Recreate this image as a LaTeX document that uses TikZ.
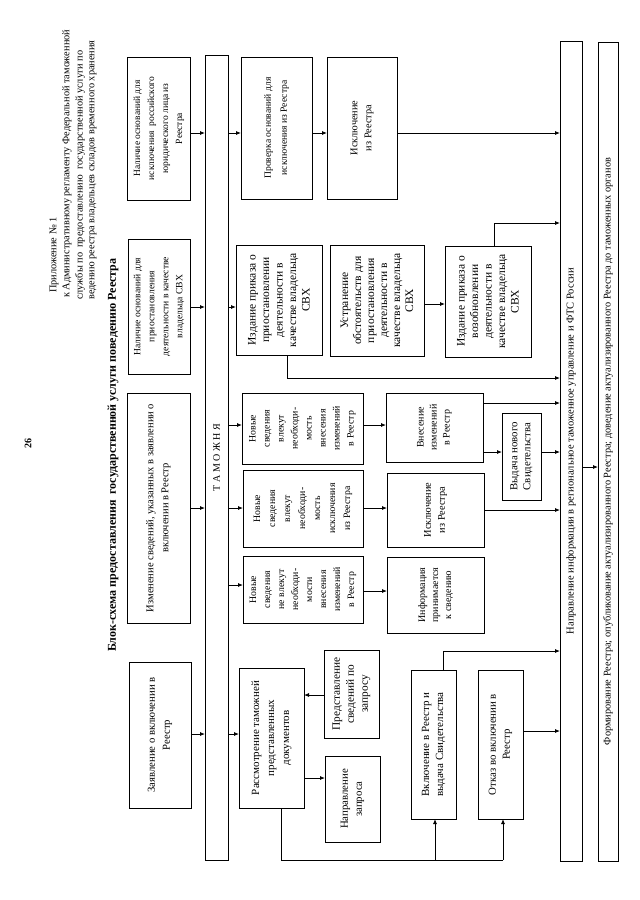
\documentclass[tikz,border=0pt]{standalone}
\usepackage{fontspec}
\setmainfont{Liberation Serif}
\usepackage{graphicx}
\usetikzlibrary{arrows.meta}
% size, width, baselineskip, text
\newcommand\rt[4]{\rotatebox{90}{\parbox{#2}{\centering\fontsize{#1}{#3}\selectfont #4}}}
\tikzset{
  bx/.style={draw, line width=0.9pt, inner sep=0pt, outer sep=0pt},
  arr/.style={line width=0.8pt, -{Latex[length=5pt,width=4pt]}},
  ln/.style={line width=0.8pt},
  rtxt/.style={rotate=90, inner sep=0pt, anchor=west}
}
\begin{document}
\begin{tikzpicture}[x=1pt,y=-1pt]
\useasboundingbox[fill=white] (0,0) rectangle (640,900);
% header
\node[rotate=90, inner sep=0pt] (pg) at (28,443) {\fontsize{10}{12}\selectfont\bfseries 26};
\node[rtxt] (h1) at (54,293) {\fontsize{10.3}{12}\selectfont Приложение № 1};
\node[rtxt] (h2) at (67,298) {\fontsize{10.3}{12}\selectfont к Административному регламенту Федеральной таможенной};
\node[rtxt] (h3) at (80,300) {\fontsize{10.3}{12}\selectfont службы по \ предоставлению \ государственной услуги по};
\node[rtxt] (h4) at (93,300) {\fontsize{10.3}{12}\selectfont ведению реестра владельцев складов временного хранения};
\node[rtxt] (title) at (113,652) {\fontsize{12}{14}\selectfont\bfseries Блок-схема предоставления \ государственной услуги поведению Реестра};
% column 1
\node[bx, minimum width=63pt, minimum height=143pt] (B1) at (159,128.5) {\rt{9.5}{135pt}{14}{Наличие оснований для\\ исключения \ российского\\ юридического лица из\\ Реестра}};
\node[bx, minimum width=62pt, minimum height=135pt] (B2) at (159,306.5) {\rt{9.6}{130pt}{14}{Наличие оснований для\\ приостановления\\ деятельности в качестве\\ владельца СВХ}};
\node[bx, minimum width=63pt, minimum height=230pt] (B3) at (158.5,508) {\rt{10.5}{225pt}{15}{Изменение сведений, указанных в заявлении о\\ включении в Реестр}};
\node[bx, minimum width=62pt, minimum height=146pt] (B4) at (160,735) {\rt{10.7}{140pt}{15}{Заявление о включении в\\ Реестр}};
% bar T
\node[bx, minimum width=23pt, minimum height=805pt] (T) at (216.5,457.5) {\rotatebox{90}{\fontsize{10}{12}\selectfont Т А М О Ж Н Я}};
% column 2
\node[bx, minimum width=71pt, minimum height=142pt] (C1) at (276.5,128) {\rt{9.6}{135pt}{16}{Проверка оснований для\\ исключения из Реестра}};
\node[bx, minimum width=70pt, minimum height=142pt] (C2) at (362,128) {\rt{10.3}{135pt}{14}{Исключение\\ из Реестра}};
\node[bx, minimum width=86pt, minimum height=110pt] (D1) at (279,300) {\rt{11.5}{106pt}{13.5}{Издание приказа о\\ приостановлении\\ деятельности в\\ качестве владельца\\ СВХ}};
\node[bx, minimum width=94pt, minimum height=111pt] (D2) at (377,300.5) {\rt{11.5}{106pt}{13}{Устранение\\ обстоятельств для\\ приостановления\\ деятельности в\\ качестве владельца\\ СВХ}};
\node[bx, minimum width=86pt, minimum height=111pt] (D3) at (488,301.5) {\rt{11.5}{106pt}{13.5}{Издание приказа о\\ возобновлении\\ деятельности в\\ качестве владельца\\ СВХ}};
\node[bx, minimum width=121pt, minimum height=71pt] (N1) at (302.5,428.5) {\rt{9.8}{68pt}{14}{Новые\\ сведения\\ влекут\\ необходи-\\ мость\\ внесения\\ изменений\\ в Реестр}};
\node[bx, minimum width=120pt, minimum height=77pt] (N2) at (303,508.5) {\rt{9.8}{74pt}{15}{Новые\\ сведения\\ влекут\\ необходи-\\ мость\\ исключения\\ из Реестра}};
\node[bx, minimum width=120pt, minimum height=67pt] (N3) at (303,589.5) {\rt{9.8}{66pt}{14}{Новые\\ сведения\\ не влекут\\ необходи-\\ мости\\ внесения\\ изменений\\ в Реестр}};
\node[bx, minimum width=97pt, minimum height=69pt] (R1) at (434.5,427.5) {\rt{10}{66pt}{13}{Внесение\\ изменений\\ в Реестр}};
\node[bx, minimum width=97pt, minimum height=74pt] (R2) at (435.5,510) {\rt{10.3}{70pt}{14}{Исключение\\ из Реестра}};
\node[bx, minimum width=97pt, minimum height=76pt] (R3) at (435.5,595) {\rt{10}{72pt}{13}{Информация\\ принимается\\ к сведению}};
\node[bx, minimum width=39pt, minimum height=87pt] (R4) at (521.5,456.5) {\rt{10.8}{84pt}{13}{Выдача нового\\ Свидетельства}};
% lower left group
\node[bx, minimum width=65pt, minimum height=140pt] (P1) at (271.5,738) {\rt{11}{135pt}{15}{Рассмотрение таможней\\ представленных\\ документов}};
\node[bx, minimum width=55pt, minimum height=86pt] (Q1) at (352.5,799) {\rt{10.8}{82pt}{14}{Направление\\ запроса}};
\node[bx, minimum width=55pt, minimum height=88pt] (Q2) at (351.5,694) {\rt{11.3}{84pt}{14}{Представление\\ сведений по\\ запросу}};
\node[bx, minimum width=45pt, minimum height=149pt] (S1) at (433.5,744.5) {\rt{11}{140pt}{14}{Включение в Реестр и\\ выдача Свидетельства}};
\node[bx, minimum width=45pt, minimum height=149pt] (S2) at (500.5,744.5) {\rt{10.8}{140pt}{14}{Отказ во включении в\\ Реестр}};
% right bars
\node[bx, minimum width=22pt, minimum height=820pt] (F1) at (571,451) {\rotatebox{90}{\fontsize{10.5}{12}\selectfont Направление информации в региональное таможенное управление и ФТС России}};
\node[bx, minimum width=20pt, minimum height=819pt] (F2) at (608,451.5) {\rotatebox{90}{\fontsize{10.3}{12}\selectfont Формирование Реестра; опубликование актуализированного Реестра; доведение актуализированного Реестра до таможенных органов}};
% junctions
\coordinate (j1) at (435,860);
\coordinate (j2) at (503,860);
% connectors: column 1 -> T
\draw[arr] (B1.east|-0,133) -- (T.west|-0,133);
\draw[arr] (B2.east|-0,307) -- (T.west|-0,307);
\draw[arr] (B3.east|-0,508) -- (T.west|-0,508);
\draw[arr] (B4.east|-0,734) -- (T.west|-0,734);
% T -> column 2
\draw[arr] (T.east|-0,133) -- (C1.west|-0,133);
\draw[arr] (C1.east|-0,133) -- (C2.west|-0,133);
\draw[arr] (C2.east|-0,133) -- (F1.west|-0,133);
\draw[arr] (T.east|-0,307) -- (D1.west|-0,307);
\draw[arr] (D1.south-|287,0) |- (F1.west|-0,378);
\draw[arr] (D2.east|-0,304) -- (D3.west|-0,304);
\draw[arr] (D3.north-|494,0) |- (F1.west|-0,223);
\draw[arr] (T.east|-0,425) -- (N1.west|-0,425);
\draw[arr] (T.east|-0,508) -- (N2.west|-0,508);
\draw[arr] (T.east|-0,585) -- (N3.west|-0,585);
\draw[arr] (N1.east|-0,425) -- (R1.west|-0,425);
\draw[arr] (N2.east|-0,508) -- (R2.west|-0,508);
\draw[arr] (N3.east|-0,591) -- (R3.west|-0,591);
\draw[arr] (R1.east|-0,403) -- (F1.west|-0,403);
\draw[arr] (R1.east|-0,452) -- (R4.west|-0,452);
\draw[arr] (R4.east|-0,452) -- (F1.west|-0,452);
\draw[arr] (R2.east|-0,510) -- (F1.west|-0,510);
\draw[arr] (F1.east|-0,467) -- (F2.west|-0,467);
% lower left
\draw[arr] (T.east|-0,734) -- (P1.west|-0,734);
\draw[arr] (P1.east|-0,778) -- (Q1.west|-0,778);
\draw[arr] (Q2.west|-0,695) -- (P1.east|-0,695);
\draw[ln] (P1.south-|281,0) |- (j2);
\draw[arr] (j2) -- (S2.south-|503,0);
\draw[arr] (j1) -- (S1.south-|435,0);
\draw[arr] (S1.north-|443,0) |- (F1.west|-0,651);
\draw[arr] (S2.east|-0,731) -- (F1.west|-0,731);
\end{tikzpicture}
\end{document}
